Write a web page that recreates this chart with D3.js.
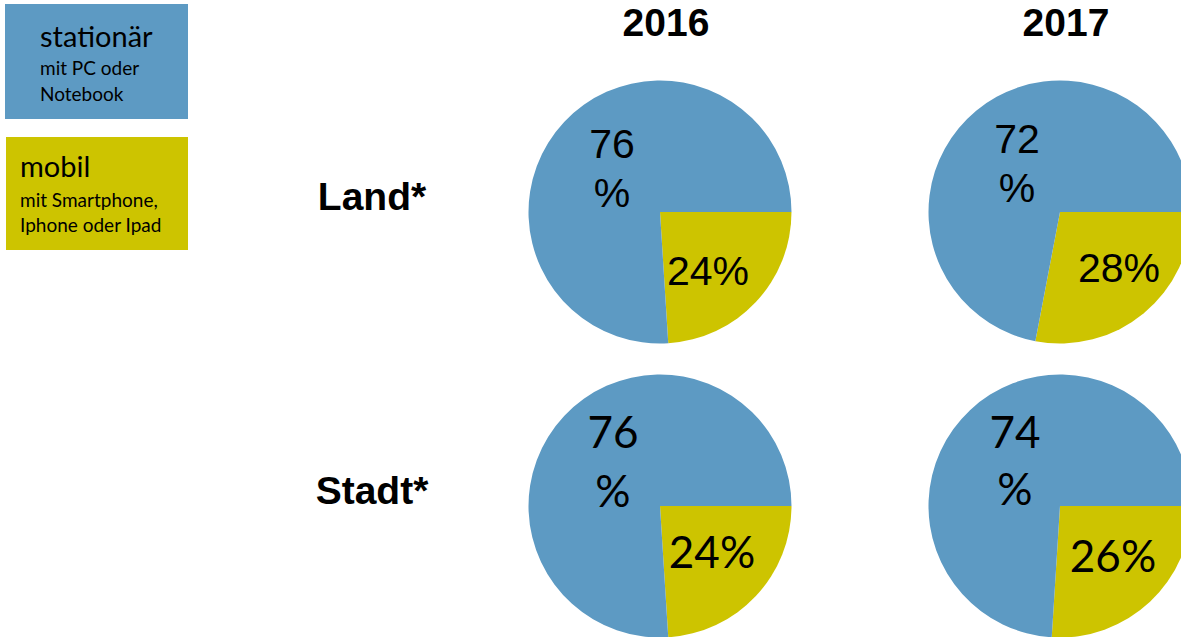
<!DOCTYPE html>
<html><head><meta charset="utf-8">
<script src="https://cdn.jsdelivr.net/npm/d3@7"></script>
<style>html,body{margin:0;padding:0;background:#fff;overflow:hidden}</style>
</head><body>
<svg id="chart" width="1181" height="637"></svg>
<script>
// ---- data ----
const years = ["2016", "2017"];
const regions = ["Land*", "Stadt*"];
const series = ["stationär", "mobil"];
const stationaer = [[76, 72], [76, 74]]; // [region][year]
const mobil = [[24, 28], [24, 26]];
const legendSub = [["mit PC oder", "Notebook"], ["mit Smartphone,", "Iphone oder Ipad"]];

// ---- styles / layout ----
const colors = {"stationär": "#5d9ac3", "mobil": "#cdc400"};
const svg = d3.select("#chart");
const xPos = d3.scalePoint().domain(years).range([660, 1060]);
const yPos = d3.scalePoint().domain(regions).range([212, 506]);
const R = 131.5;
const fonts = ["Liberation Sans, Arial, sans-serif", "Lato, 'Open Sans', sans-serif"];
const fontSizes = [41, 44];
// label offsets per [region][year]
const labOff = [
  [{sx:-48, s1:-54, s2:-5, mx:48, my:73}, {sx:-43, s1:-59, s2:-10, mx:59, my:70}],
  [{sx:-47, s1:-58, s2:1, mx:52, my:62}, {sx:-45, s1:-58, s2:-1, mx:53, my:66}]
];

// legend
const legendBoxes = [{x:5, y:4, w:183, h:115, tx:40, t1:47, t2:75, t3:101}, {x:6, y:137, w:182, h:113, tx:20, t1:177, t2:207, t3:232}];
series.forEach((s, i) => {
  const b = legendBoxes[i];
  svg.append("rect").attr("x", b.x).attr("y", b.y).attr("width", b.w).attr("height", b.h).attr("fill", colors[s]);
  svg.append("text").attr("x", b.tx).attr("y", b.t1).text(s)
    .style("font-family", fonts[1]).style("font-size", "29px").attr("fill", "#000");
  svg.append("text").attr("x", b.tx).attr("y", b.t2).text(legendSub[i][0])
    .style("font-family", fonts[1]).style("font-size", "19px").attr("fill", "#000");
  svg.append("text").attr("x", b.tx).attr("y", b.t3).text(legendSub[i][1])
    .style("font-family", fonts[1]).style("font-size", "19px").attr("fill", "#000");
});

// titles
years.forEach(y => {
  svg.append("text").attr("x", xPos(y) + 6).attr("y", 36).attr("text-anchor", "middle")
    .text(y).style("font-family", fonts[0]).style("font-weight", "bold").style("font-size", "39px");
});
regions.forEach(r => {
  svg.append("text").attr("x", 372).attr("y", yPos(r) - 2).attr("text-anchor", "middle")
    .text(r).style("font-family", fonts[0]).style("font-weight", "bold").style("font-size", "39px");
});

const pie = d3.pie().sort(null).value(d => d.v).startAngle(Math.PI / 2).endAngle(Math.PI / 2 + 2 * Math.PI);
const arc = d3.arc().innerRadius(0).outerRadius(R);

regions.forEach((r, ri) => {
  years.forEach((y, yi) => {
    const cx = xPos(y), cy = yPos(r);
    const g = svg.append("g").attr("transform", `translate(${cx},${cy})`);
    const data = [{k:"mobil", v: mobil[ri][yi]}, {k:"stationär", v: stationaer[ri][yi]}];
    g.selectAll("path").data(pie(data)).join("path")
      .attr("d", arc).attr("fill", d => colors[d.data.k]);
    const o = labOff[ri][yi];
    const ff = fonts[ri], fs = fontSizes[ri] + "px";
    g.append("text").attr("x", o.sx).attr("y", o.s1).attr("text-anchor", "middle")
      .text(stationaer[ri][yi]).style("font-family", ff).style("font-size", fs);
    g.append("text").attr("x", o.sx).attr("y", o.s2).attr("text-anchor", "middle")
      .text("%").style("font-family", ff).style("font-size", fs);
    g.append("text").attr("x", o.mx).attr("y", o.my).attr("text-anchor", "middle")
      .text(mobil[ri][yi] + "%").style("font-family", ff).style("font-size", fs);
  });
});
</script>
</body></html>
